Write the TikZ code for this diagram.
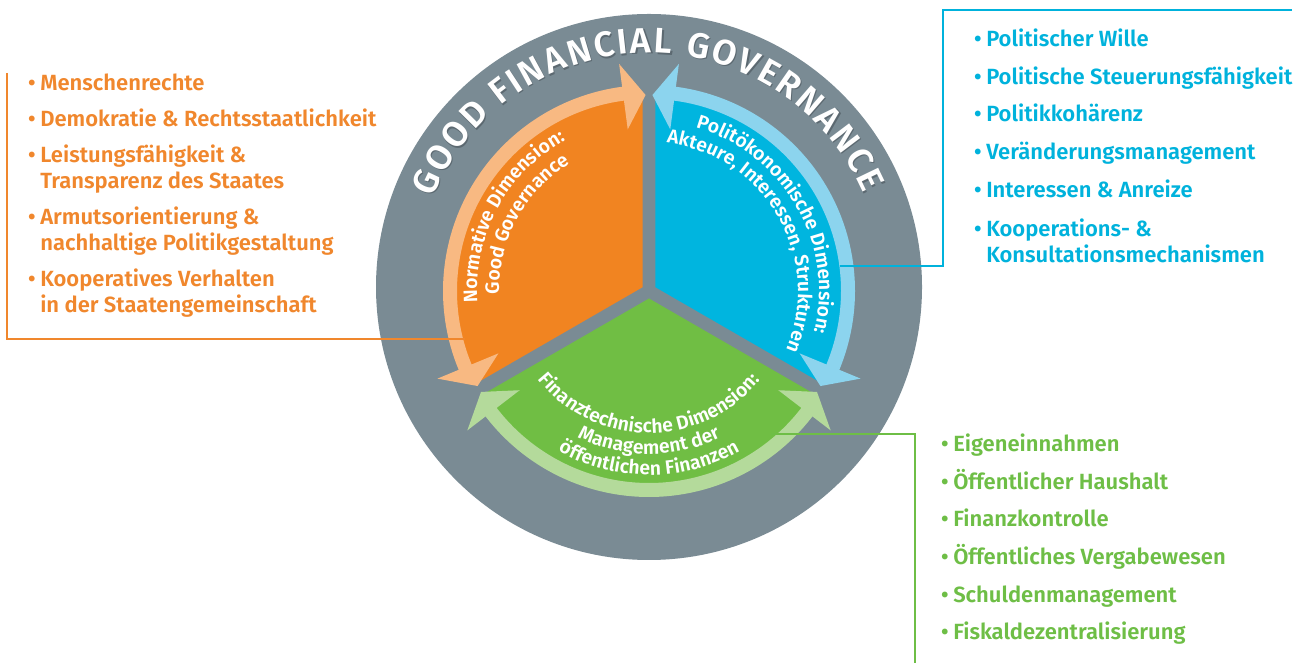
\documentclass[tikz,border=0pt]{standalone}
\usepackage{fontspec}
\setmainfont{Fira Sans}[BoldFont={Fira Sans SemiBold}]
\usetikzlibrary{decorations.text}
\definecolor{ggrey}{RGB}{122,139,148}
\definecolor{gshadow}{RGB}{92,105,113}
\definecolor{gorange}{RGB}{241,132,33}
\definecolor{lorange}{RGB}{248,185,130}
\definecolor{gblue}{RGB}{0,181,223}
\definecolor{lblue}{RGB}{140,212,238}
\definecolor{ggreen}{RGB}{112,190,68}
\definecolor{lgreen}{RGB}{180,218,155}
\definecolor{torange}{RGB}{240,135,45}
\definecolor{tblue}{RGB}{0,178,220}
\definecolor{tgreen}{RGB}{110,190,70}
\newcommand{\innerfont}{\bfseries\fontsize{14.5}{17}\selectfont}
\newcommand{\titlefont}{\bfseries\fontsize{26.5}{31}\selectfont}
\newcommand{\bul}{\llap{•\hspace{3.5pt}}}
% radius, start, end, text
\newcommand{\arctext}[4]{%
\path[decorate, decoration={text along path, text align=center, text color=white, text={|\innerfont|#4}}] (#2:#1) arc[start angle=#2, end angle=#3, radius=#1];}
\newcommand{\titletext}[1]{\path[decorate, decoration={text along path, text align=fit to path, text color=#1, text={|\titlefont|GOOD FINANCIAL GOVERNANCE}}] (157.5:234) arc[start angle=157.5, end angle=23.5, radius=234];}
\tikzset{
  litem/.style={anchor=base west, inner sep=0pt, font=\bfseries\fontsize{16.5}{19}\selectfont},
  band/.style={line width=10.5pt},
  conn/.style={line width=1.5pt}
}
\begin{document}
\begin{tikzpicture}[x=0.75pt,y=0.75pt]
\useasboundingbox (0,0) rectangle (1305,663);
\coordinate (Co) at (649,376);
\coordinate (Ci) at (649,372);
\fill[ggrey] (Co) circle[radius=273];

% title along the ring (with soft shadow)
\begin{scope}[shift={(650.2,374.8)}]
\titletext{gshadow}
\end{scope}
\begin{scope}[shift={(649,376)}]
\titletext{white}
\end{scope}

\begin{scope}[shift={(649,372)}]
% sectors
\fill[gorange] (0,0) -- (90:199) arc[start angle=90, end angle=210, radius=199] -- cycle;
\fill[gblue] (0,0) -- (90:199) arc[start angle=90, end angle=-30, radius=199] -- cycle;
\fill[ggreen] (0,0) -- (210:199) arc[start angle=210, end angle=330, radius=199] -- cycle;
\draw[ggrey, line width=9.5pt] (0,0) -- (90:200) (0,0) -- (210:200) (0,0) -- (330:200);
\fill[ggrey] (0,0) circle[radius=5];
% orange band with arrowheads
\draw[lorange, band] (97:199) arc[start angle=97, end angle=203, radius=199];
\fill[lorange] (91:196) -- (97.5:163) -- (97.5:229) -- cycle;
\fill[lorange] (209:196) -- (202.5:163) -- (202.5:229) -- cycle;
% blue band
\draw[lblue, band] (83:199) arc[start angle=83, end angle=-23, radius=199];
\fill[lblue] (89:196) -- (82.5:163) -- (82.5:229) -- cycle;
\fill[lblue] (-29:196) -- (-22.5:163) -- (-22.5:229) -- cycle;
% green band
\draw[lgreen, band] (217:199) arc[start angle=217, end angle=323, radius=199];
\fill[lgreen] (211:196) -- (217.5:163) -- (217.5:229) -- cycle;
\fill[lgreen] (329:196) -- (322.5:163) -- (322.5:229) -- cycle;
% sector labels
\arctext{172}{231.5}{71.5}{Normative Dimension:}
\arctext{150}{231.5}{71.5}{Good Governance}
\arctext{170}{110}{-50}{Politökonomische Dimension:}
\arctext{149}{110}{-50}{Akteure, Interessen, Strukturen}
\arctext{142}{190}{350}{Finanztechnische Dimension:}
\arctext{163}{190}{350}{Management der}
\arctext{184}{190}{350}{öffentlichen Finanzen}
\end{scope}

% orange list
\begin{scope}[text=torange]
\node[litem] (o1) at (40,572) {\bul Menschenrechte};
\node[litem] (o2) at (40,536) {\bul Demokratie \& Rechtsstaatlichkeit};
\node[litem] (o3) at (40,500) {\bul Leistungsfähigkeit \&};
\node[litem] (o4) at (40,474) {Transparenz des Staates};
\node[litem] (o5) at (40,438) {\bul Armutsorientierung \&};
\node[litem] (o6) at (40,412) {nachhaltige Politikgestaltung};
\node[litem] (o7) at (40,376) {\bul Kooperatives Verhalten};
\node[litem] (o8) at (40,350) {in der Staatengemeinschaft};
\end{scope}
% blue list
\begin{scope}[text=tblue]
\node[litem] (b1) at (986,616) {\bul Politischer Wille};
\node[litem] (b2) at (986,578) {\bul Politische Steuerungsfähigkeit};
\node[litem] (b3) at (986,541) {\bul Politikkohärenz};
\node[litem] (b4) at (986,503) {\bul Veränderungsmanagement};
\node[litem] (b5) at (986,465) {\bul Interessen \& Anreize};
\node[litem] (b6) at (986,426) {\bul Kooperations- \&};
\node[litem] (b7) at (986,400) {Konsultationsmechanismen};
\end{scope}
% green list
\begin{scope}[text=tgreen]
\node[litem] (g1) at (953,211) {\bul Eigeneinnahmen};
\node[litem] (g2) at (953,173) {\bul Öffentlicher Haushalt};
\node[litem] (g3) at (953,136) {\bul Finanzkontrolle};
\node[litem] (g4) at (953,98) {\bul Öffentliches Vergabewesen};
\node[litem] (g5) at (953,60) {\bul Schuldenmanagement};
\node[litem] (g6) at (953,23) {\bul Fiskaldezentralisierung};
\end{scope}

% connectors
\coordinate (oA) at (7,590);
\coordinate (oB) at (465,324);
\draw[torange, conn] (oA) |- (oB);
\coordinate (bA) at (1292,653);
\coordinate (bB) at (943,397);
\coordinate (bC) at (840,397);
\draw[tblue, conn] (bA) -| (bB) -- (bC);
\coordinate (gA) at (771,229);
\coordinate (gB) at (915,0);
\draw[tgreen, conn] (gA) -| (gB);
\end{tikzpicture}
\end{document}
